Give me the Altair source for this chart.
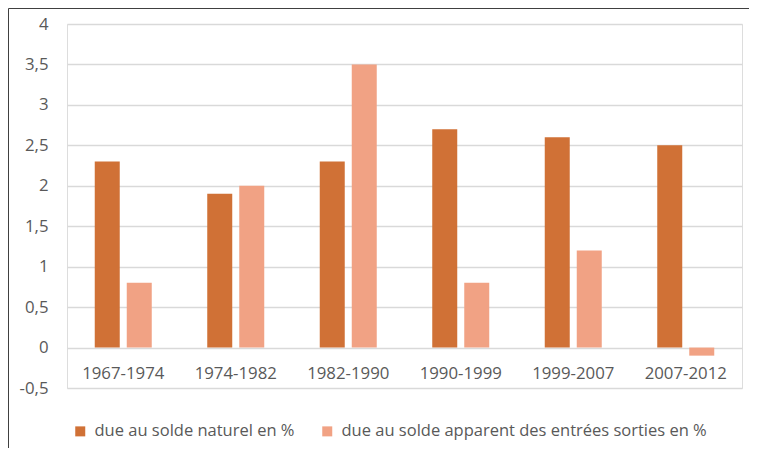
import altair as alt
import pandas as pd

periods = ["1967-1974", "1974-1982", "1982-1990", "1990-1999", "1999-2007", "2007-2012"]
naturel = [2.3, 1.9, 2.3, 2.7, 2.6, 2.5]
apparent = [0.8, 2.0, 3.5, 0.8, 1.2, -0.1]
series = ["due au solde naturel en %", "due au solde apparent des entrées sorties en %"]
colors = ["#D07136", "#F1A284"]
y_ticks = [-0.5, 0, 0.5, 1, 1.5, 2, 2.5, 3, 3.5, 4]

rows = []
for p, a, b in zip(periods, naturel, apparent):
    rows.append({"periode": p, "serie": series[0], "valeur": a})
    rows.append({"periode": p, "serie": series[1], "valeur": b})
df = pd.DataFrame(rows)

W, H = 675, 364
PAD_T, PAD_L, PAD_R, PAD_B = 16, 59, 7, 60
FONT = "Open Sans"
TXT = "#595959"
FS = 16.8

bars = alt.Chart(df).mark_bar().encode(
    x=alt.X("periode:N", sort=periods, title=None,
            scale=alt.Scale(paddingInner=0.4933, paddingOuter=0.24665),
            axis=alt.Axis(orient="bottom", offset=-40, domain=False, ticks=False,
                          tickSize=0, labelPadding=17, labelAngle=0,
                          labelFontSize=FS, labelColor=TXT, labelFont=FONT)),
    xOffset=alt.XOffset("serie:N", sort=series,
                        scale=alt.Scale(paddingInner=0.21875, paddingOuter=0)),
    y=alt.Y("valeur:Q", title=None,
            scale=alt.Scale(domain=[-0.5, 4], nice=False, zero=False),
            axis=alt.Axis(values=y_ticks, domain=False, ticks=False, labelPadding=19,
                          labelFontSize=FS, labelColor=TXT, labelFont=FONT,
                          gridColor="#D9D9D9", gridWidth=1.5,
                          labelExpr="replace(toString(datum.value), '.', ',')")),
    color=alt.Color("serie:N", sort=series,
                    scale=alt.Scale(domain=series, range=colors),
                    legend=alt.Legend(title=None, orient="none", direction="horizontal",
                                      legendX=5, legendY=399, symbolType="square",
                                      symbolSize=100, symbolStrokeWidth=0,
                                      labelFontSize=16.5, labelColor=TXT, labelFont=FONT,
                                      labelOffset=6, columnPadding=24,
                                      labelLimit=500)),
)

edge = pd.DataFrame({"k": [0]})
left_line = alt.Chart(edge).mark_rule(color="#404040", strokeWidth=1).encode(
    x=alt.value(-PAD_L + 0.5), y=alt.value(-PAD_T + 0.5), y2=alt.value(H + PAD_B),
)
top_line = alt.Chart(edge).mark_rule(color="#404040", strokeWidth=1).encode(
    x=alt.value(-PAD_L + 0.5), x2=alt.value(W + PAD_R), y=alt.value(-PAD_T + 0.5),
)

chart = alt.layer(bars, left_line, top_line).properties(
    width=W, height=H,
    autosize=alt.AutoSizeParams(type="none"),
    padding={"left": PAD_L, "top": PAD_T, "right": PAD_R, "bottom": PAD_B},
).configure_view(stroke=None).configure(background="white")

chart.save("out.html", embed_options={"renderer": "svg", "actions": False})
